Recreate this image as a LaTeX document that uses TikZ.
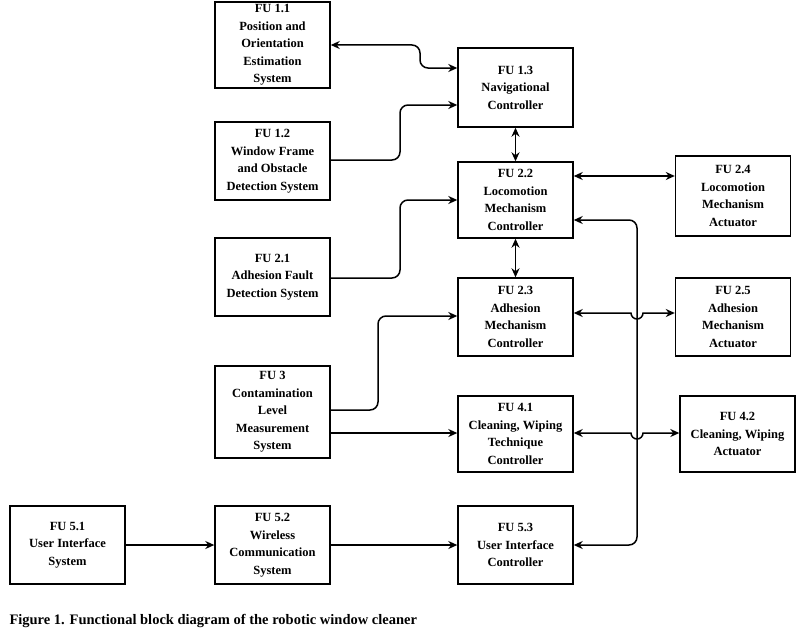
\documentclass[tikz,border=0pt]{standalone}
\usepackage{fontspec}
\setmainfont{Liberation Serif}
\usetikzlibrary{arrows.meta}
\begin{document}
\begin{tikzpicture}[x=1pt,y=-1pt,
    fu/.style={draw, line width=1.4pt, minimum width=115pt, align=center,
      font=\bfseries\fontsize{12.5}{17.5}\selectfont, inner sep=1pt},
    link/.style={line width=1.5pt, rounded corners=8pt, -{Stealth[length=9pt,width=8pt]}},
    both/.style={link, {Stealth[length=9pt,width=8pt]}-{Stealth[length=9pt,width=8pt]}}]
  \useasboundingbox (0,0) rectangle (799,634);
  % Blocks
  \node [fu, minimum height=86pt] (pos) at (272.5,45) {FU 1.1\\Position and\\Orientation\\Estimation\\System};
  \node [fu, minimum height=79pt] (nav) at (515.5,87.5) {FU 1.3\\Navigational\\Controller};
  \node [fu, minimum height=78pt] (win) at (272.5,161) {FU 1.2\\Window Frame\\and Obstacle\\Detection System};
  \node [fu, minimum height=76pt] (loc) at (515.5,200) {FU 2.2\\Locomotion\\Mechanism\\Controller};
  \node [fu, minimum height=80pt] (locact) at (733,196) {FU 2.4\\Locomotion\\Mechanism\\Actuator};
  \node [fu, minimum height=78pt] (fault) at (272.5,277) {FU 2.1\\Adhesion Fault\\Detection System};
  \node [fu, minimum height=78pt] (adh) at (515.5,317) {FU 2.3\\Adhesion\\Mechanism\\Controller};
  \node [fu, minimum height=78pt] (adhact) at (733,317) {FU 2.5\\Adhesion\\Mechanism\\Actuator};
  \node [fu, minimum height=92pt] (cont) at (272.5,412) {FU 3\\Contamination\\Level\\Measurement\\System};
  \node [fu, minimum height=76pt] (clean) at (515.5,434) {FU 4.1\\Cleaning, Wiping\\Technique\\Controller};
  \node [fu, minimum height=76pt] (cleanact) at (737.5,434) {FU 4.2\\Cleaning, Wiping\\Actuator};
  \node [fu, minimum height=78pt] (ui) at (67.5,545) {FU 5.1\\User Interface\\System};
  \node [fu, minimum height=78pt] (wless) at (272.5,545) {FU 5.2\\Wireless\\Communication\\System};
  \node [fu, minimum height=78pt] (uictl) at (515.5,545) {FU 5.3\\User Interface\\Controller};
  \node [anchor=west, font=\bfseries\fontsize{14.5}{16}\selectfont] (cap) at (6,621) {Figure 1. Functional block diagram of the robotic window cleaner};
  % Connectors
  \draw [both] (pos.east |- 0,45) -| (420,68) -- (nav.west |- 0,68);
  \draw [link] (win.east |- 0,160) -| (400,105) -- (nav.west |- 0,105);
  \draw [both] (nav) -- (loc);
  \draw [link] (fault.east |- 0,278) -| (400,200) -- (loc.west |- 0,200);
  \draw [both] (loc.east |- 0,176) -- (locact.west |- 0,176);
  \draw [both] (loc) -- (adh);
  \draw [link] (cont.east |- 0,410) -| (378,316) -- (adh.west |- 0,316);
  \draw [link] (cont.east |- 0,433) -- (clean.west |- 0,433);
  \draw [link] (wless) -- (uictl);
  \draw [link] (ui) -- (wless);
  \draw [both] (loc.east |- 0,220) -| (637,545) -- (uictl.east |- 0,545);
  % Crossings with hops
  \draw [both, rounded corners=0pt] (adh.east |- 0,313) -- (631,313) arc[start angle=180, end angle=0, radius=6] -- (adhact.west |- 0,313);
  \draw [both, rounded corners=0pt] (clean.east |- 0,433) -- (631,433) arc[start angle=180, end angle=0, radius=6] -- (cleanact.west |- 0,433);
\end{tikzpicture}
\end{document}
